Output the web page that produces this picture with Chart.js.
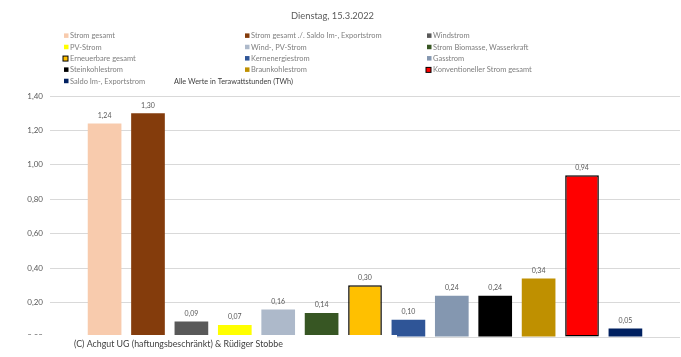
<!DOCTYPE html>
<html><head><meta charset="utf-8">
<script src="https://cdn.jsdelivr.net/npm/chart.js@4/dist/chart.umd.min.js"></script>
<style>html,body{margin:0;padding:0;background:#fff;overflow:hidden}</style>
</head><body>
<canvas id="c" width="681" height="357"></canvas>
<script>
const chartTitle = 'Dienstag, 15.3.2022';
const seriesNames = [
  'Strom gesamt',
  'Strom gesamt ./. Saldo Im-, Exportstrom',
  'Windstrom',
  'PV-Strom',
  'Wind-, PV-Strom',
  'Strom Biomasse, Wasserkraft',
  'Erneuerbare gesamt',
  'Kernenergiestrom',
  'Gasstrom',
  'Steinkohlestrom',
  'Braunkohlestrom',
  'Konventioneller Strom gesamt',
  'Saldo Im-, Exportstrom'
];
const seriesValues = [1.24, 1.30, 0.09, 0.07, 0.16, 0.14, 0.30, 0.10, 0.24, 0.24, 0.34, 0.94, 0.05];
const seriesColors = ['#F8CBAD','#843C0C','#595959','#FFFF00','#ADB9CA','#375623','#FFC000','#2F5597','#8497B0','#000000','#BF9000','#FF0000','#002060'];
const outlined = [false,false,false,false,false,false,true,false,false,false,false,true,false];
const yTickMin = 0, yTickMax = 1.4, yTickStep = 0.2;
const unitNote = 'Alle Werte in Terawattstunden (TWh)';
const footerText = '(C) Achgut UG (haftungsbeschränkt) & Rüdiger Stobbe';

const FONT = 'Lato, "Open Sans", sans-serif';
const fmt = v => v.toFixed(2).replace('.', ',');
function fitSize(ctx, text, target) {
  ctx.font = '100px ' + FONT;
  return 100 * target / ctx.measureText(text).width;
}

const decor = {
  id: 'decor',
  afterDatasetsDraw(chart) {
    const ctx = chart.ctx;
    ctx.save();
    ctx.fillStyle = '#595959';
    ctx.font = '7px ' + FONT;
    ctx.textAlign = 'center';
    ctx.textBaseline = 'alphabetic';
    chart.data.datasets.forEach((ds, i) => {
      const el = chart.getDatasetMeta(i).data[0];
      ctx.fillText(fmt(ds.data[0]), el.x, el.y - 5.5);
    });
    ctx.restore();
  },
  afterDraw(chart) {
    const ctx = chart.ctx;
    ctx.save();
    // footer text box
    ctx.fillStyle = '#ffffff';
    ctx.fillRect(0, 335, 397, 22);
    let s = fitSize(ctx, footerText, 209);
    ctx.font = s + 'px ' + FONT;
    ctx.fillStyle = '#404040';
    ctx.textAlign = 'left';
    ctx.textBaseline = 'alphabetic';
    ctx.fillText(footerText, 74, 346.5);
    // title
    s = fitSize(ctx, chartTitle, 83);
    ctx.font = s + 'px ' + FONT;
    ctx.fillStyle = '#595959';
    ctx.textAlign = 'center';
    ctx.fillText(chartTitle, 332.5, 19);
    // legend
    const ls = fitSize(ctx, seriesNames[0], 45);
    const colX = [64, 245, 427];
    chart.data.datasets.forEach((ds, i) => {
      const col = i % 3, row = Math.floor(i / 3);
      const base = 38.4 + row * 11.33;
      const cy = base - 2.5;
      const x = colX[col];
      if (ds.borderWidth > 0) {
        ctx.fillStyle = '#000';
        ctx.fillRect(x - 1.5, cy - 3, 6, 6);
        ctx.fillStyle = ds.backgroundColor;
        ctx.fillRect(x - 0.5, cy - 2, 4, 4);
      } else {
        ctx.fillStyle = ds.backgroundColor;
        ctx.fillRect(x, cy - 2.5, 4.5, 4.5);
      }
      ctx.font = ls + 'px ' + FONT;
      ctx.fillStyle = '#7f7f7f';
      ctx.textAlign = 'left';
      ctx.fillText(ds.label, x + 6, base);
    });
    s = fitSize(ctx, unitNote, 119);
    ctx.font = s + 'px ' + FONT;
    ctx.fillStyle = '#404040';
    ctx.fillText(unitNote, 174, 38.4 + 4 * 11.33);
    ctx.restore();
  }
};

new Chart(document.getElementById('c'), {
  type: 'bar',
  data: {
    labels: [chartTitle],
    datasets: seriesNames.map((name, i) => ({
      label: name,
      data: [seriesValues[i]],
      backgroundColor: seriesColors[i],
      borderColor: '#000000',
      borderWidth: outlined[i] ? 1.5 : 0,
      borderSkipped: false,
      categoryPercentage: 0.8956,
      barPercentage: 0.776
    }))
  },
  options: {
    responsive: false,
    animation: false,
    devicePixelRatio: 1,
    layout: { padding: { top: 96, bottom: 20, left: 0, right: 1 } },
    plugins: { legend: { display: false }, title: { display: false }, tooltip: { enabled: false } },
    scales: {
      x: { display: false },
      y: {
        min: yTickMin, max: yTickMax,
        ticks: { stepSize: yTickStep, padding: 7, color: '#595959', font: { family: FONT, size: 8 }, callback: v => fmt(v) },
        grid: { color: '#d9d9d9', drawTicks: false, lineWidth: 1 },
        border: { display: false },
        afterFit(scale) { scale.width = 50; }
      }
    }
  },
  plugins: [decor]
});
</script>
</body></html>
